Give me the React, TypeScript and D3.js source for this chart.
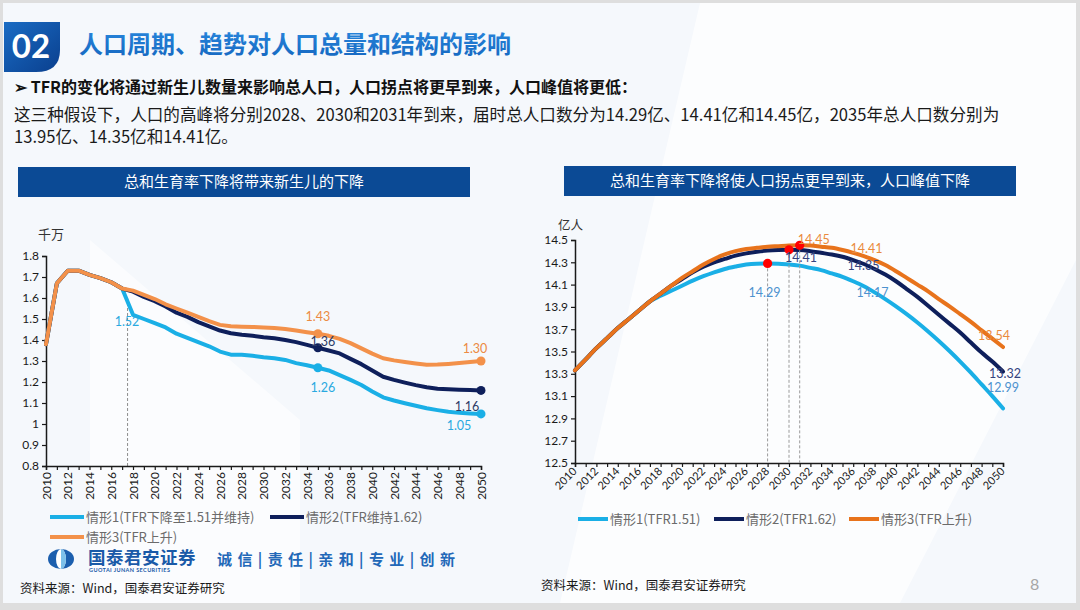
import { useEffect, useRef } from 'react';
import * as d3 from 'd3';

// ---- data ----
const YEARS = d3.range(2010, 2051);

// newborns, 千万 (2010-2017 shared history)
const BIRTHS_HIST = [1.38, 1.67, 1.73, 1.73, 1.71, 1.695, 1.675, 1.645];
// 2018-2050
const BIRTHS_S1 = [1.52, 1.5, 1.48, 1.46, 1.43, 1.41, 1.39, 1.37, 1.345, 1.33, 1.33, 1.325, 1.318, 1.313, 1.305, 1.29, 1.28, 1.268, 1.255, 1.233, 1.21, 1.186, 1.155, 1.127, 1.112, 1.099, 1.087, 1.075, 1.066, 1.058, 1.053, 1.05, 1.048];
const BIRTHS_S2 = [1.63, 1.605, 1.585, 1.56, 1.53, 1.51, 1.485, 1.465, 1.445, 1.432, 1.425, 1.42, 1.413, 1.408, 1.4, 1.39, 1.377, 1.363, 1.35, 1.336, 1.31, 1.285, 1.255, 1.225, 1.21, 1.197, 1.185, 1.175, 1.168, 1.165, 1.163, 1.162, 1.16];
const BIRTHS_S3 = [1.635, 1.615, 1.595, 1.57, 1.55, 1.53, 1.51, 1.49, 1.472, 1.465, 1.463, 1.462, 1.46, 1.457, 1.452, 1.445, 1.437, 1.43, 1.42, 1.405, 1.385, 1.36, 1.335, 1.313, 1.303, 1.295, 1.288, 1.282, 1.283, 1.286, 1.29, 1.295, 1.3];

// total population, 亿人 (2010-2017 shared)
const POP_HIST = [13.33, 13.43, 13.53, 13.62, 13.71, 13.79, 13.87, 13.95];
const POP_S1 = [14.0, 14.045, 14.09, 14.135, 14.175, 14.21, 14.24, 14.262, 14.28, 14.288, 14.29, 14.288, 14.28, 14.27, 14.25, 14.23, 14.2, 14.17, 14.13, 14.085, 14.03, 13.97, 13.905, 13.835, 13.76, 13.68, 13.595, 13.505, 13.41, 13.31, 13.205, 13.1, 12.99];
const POP_S2 = [14.02, 14.09, 14.15, 14.21, 14.26, 14.3, 14.33, 14.36, 14.38, 14.395, 14.405, 14.41, 14.412, 14.41, 14.4, 14.385, 14.37, 14.35, 14.32, 14.285, 14.24, 14.19, 14.13, 14.06, 13.99, 13.91, 13.83, 13.75, 13.67, 13.58, 13.49, 13.41, 13.32];
const POP_S3 = [14.02, 14.09, 14.16, 14.22, 14.28, 14.33, 14.37, 14.4, 14.42, 14.43, 14.44, 14.445, 14.45, 14.452, 14.45, 14.44, 14.43, 14.41, 14.385, 14.355, 14.32, 14.275, 14.22, 14.16, 14.1, 14.04, 13.97, 13.905, 13.835, 13.765, 13.69, 13.615, 13.54];

const LEFT_Y_TICKS = [0.8, 0.9, 1, 1.1, 1.2, 1.3, 1.4, 1.5, 1.6, 1.7, 1.8];
const RIGHT_Y_TICKS = [12.5, 12.7, 12.9, 13.1, 13.3, 13.5, 13.7, 13.9, 14.1, 14.3, 14.5];

const LEFT_NAMES = ['情形1(TFR下降至1.51并维持)', '情形2(TFR维持1.62)', '情形3(TFR上升)'];
const RIGHT_NAMES = ['情形1(TFR1.51)', '情形2(TFR1.62)', '情形3(TFR上升)'];

// labelled points
const LEFT_BRANCH_YEAR = 2017.5;
const LEFT_LABELS = [
  { s: 0, year: 2018, text: '1.52' },
  { s: 2, year: 2035, text: '1.43' },
  { s: 1, year: 2035, text: '1.36' },
  { s: 0, year: 2035, text: '1.26' },
  { s: 2, year: 2050, text: '1.30' },
  { s: 1, year: 2050, text: '1.16' },
  { s: 0, year: 2050, text: '1.05' },
];
const LEFT_DOT_YEARS = [2035, 2050];
const PEAK_YEARS = [2028, 2030, 2031];
const RIGHT_LABELS = [
  { s: 0, year: 2028, text: '14.29' },
  { s: 1, year: 2030, text: '14.41' },
  { s: 2, year: 2031, text: '14.45' },
  { s: 2, year: 2035, text: '14.41' },
  { s: 1, year: 2035, text: '14.35' },
  { s: 0, year: 2035, text: '14.17' },
  { s: 2, year: 2050, text: '13.54' },
  { s: 1, year: 2050, text: '13.32' },
  { s: 0, year: 2050, text: '12.99' },
];

const LEFT_COLORS = ['#1aafe6', '#0e1f5b', '#f3914a'];
const LEFT_LABEL_COLORS = ['#29a9e0', '#2b3a66', '#ec8a42'];
const RIGHT_COLORS = ['#1aafe6', '#0e1f5b', '#e8731c'];
const RIGHT_LABEL_COLORS = ['#4d92cf', '#34447e', '#ea8a3c'];

// label offsets (dx, dy) relative to the point
const LEFT_LABEL_OFF = [[-6, 7], [0, -17], [5, -6], [5, 20], [-6, -12], [-14, 16], [-22, 12]];
const RIGHT_LABEL_OFF = [[-3, 29], [12, 8], [14, -6], [24, -1], [21, 9], [30, 16], [-9, -11], [2, 2], [0, -21]];

const CJK = '"Noto Sans CJK SC", "Noto Sans", sans-serif';
const NUM = 'Lato, "Noto Sans CJK SC", sans-serif';

function drawChart(
  g: d3.Selection<SVGGElement, unknown, null, undefined>,
  opts: {
    hist: number[];
    tails: number[][];
    colors: string[];
    x: d3.ScaleLinear<number, number>;
    y: d3.ScaleLinear<number, number>;
    yTicks: number[];
    yFmt: (d: number) => string;
    rotate: number;
    curve: d3.CurveFactory;
  },
) {
  const { x, y } = opts;
  const series = opts.tails.map((t) => opts.hist.concat(t));
  const x0 = x.range()[0];
  const yb = y.range()[0];

  // axes
  const ya = g.append('g').attr('transform', `translate(${x0},0)`)
    .call(d3.axisLeft(y).tickValues(opts.yTicks).tickSize(4).tickFormat((d) => opts.yFmt(+d)));
  const xa = g.append('g').attr('transform', `translate(0,${yb})`)
    .call(d3.axisBottom(x).tickValues(YEARS).tickSize(4)
      .tickFormat((d) => (+d % 2 === 0 ? String(d) : '')));
  [ya, xa].forEach((a) => {
    a.select('.domain').attr('stroke', '#1a1a1a').attr('stroke-width', 1.5);
    a.selectAll('.tick line').attr('stroke', '#1a1a1a').attr('stroke-width', 1.2);
    a.selectAll('text').attr('fill', '#1a1a1a').attr('font-size', 12).attr('font-family', NUM);
  });
  ya.selectAll('text').attr('x', -7);
  if (opts.rotate === -90) {
    xa.selectAll('.tick text')
      .attr('transform', 'rotate(-90)')
      .attr('x', -6).attr('y', 0).attr('dy', '0.35em')
      .style('text-anchor', 'end').attr('font-size', 12);
  } else {
    xa.selectAll('.tick text')
      .attr('transform', 'rotate(-45)')
      .attr('x', -5).attr('y', 4).attr('dy', '0.35em')
      .style('text-anchor', 'end').attr('font-size', 11);
  }

  const line = d3.line<number>()
    .x((_, i) => x(YEARS[i]))
    .y((d) => y(d))
    .curve(opts.curve);

  series.forEach((s, i) => {
    g.append('path')
      .attr('d', line(s) ?? '')
      .attr('fill', 'none')
      .attr('stroke', opts.colors[i])
      .attr('stroke-width', 4)
      .attr('stroke-linejoin', 'round')
      .attr('stroke-linecap', 'round');
  });
  return series;
}

export default function App() {
  const ref = useRef<SVGGElement>(null);

  useEffect(() => {
    if (!ref.current) return;
    const root = d3.select(ref.current);
    root.selectAll('*').remove();

    // ---- left chart ----
    const xL = d3.scaleLinear().domain([2010, 2050]).range([46, 481]);
    const yL = d3.scaleLinear().domain([0.8, 1.8]).range([466, 256]);
    const gl = root.append('g');
    // dashed guide
    gl.append('line')
      .attr('x1', xL(LEFT_BRANCH_YEAR)).attr('x2', xL(LEFT_BRANCH_YEAR))
      .attr('y1', yL(1.6)).attr('y2', yL(0.8))
      .attr('stroke', '#8c8c8c').attr('stroke-width', 1).attr('stroke-dasharray', '3,2');
    const sl = drawChart(gl, {
      hist: BIRTHS_HIST, tails: [BIRTHS_S1, BIRTHS_S2, BIRTHS_S3],
      colors: LEFT_COLORS,
      x: xL, y: yL, yTicks: LEFT_Y_TICKS,
      yFmt: (d) => String(Math.round(d * 10) / 10), rotate: -90, curve: d3.curveLinear,
    });
    LEFT_DOT_YEARS.forEach((yr) => {
      sl.forEach((s, i) => {
        gl.append('circle').attr('cx', xL(yr)).attr('cy', yL(s[yr - 2010]))
          .attr('r', 4.5).attr('fill', LEFT_COLORS[i]);
      });
    });
    LEFT_LABELS.forEach((l, k) => {
      const s = sl[l.s];
      gl.append('text')
        .attr('x', xL(l.year) + LEFT_LABEL_OFF[k][0])
        .attr('y', yL(s[l.year - 2010]) + LEFT_LABEL_OFF[k][1])
        .attr('text-anchor', 'middle').attr('dy', '0.35em')
        .attr('font-size', 12.5).attr('font-family', NUM)
        .attr('fill', LEFT_LABEL_COLORS[l.s]).text(l.text);
    });

    // ---- right chart ----
    const xR = d3.scaleLinear().domain([2010, 2050]).range([575, 1003]);
    const yR = d3.scaleLinear().domain([12.5, 14.5]).range([463, 240]);
    const gr = root.append('g');
    const sr = drawChart(gr, {
      hist: POP_HIST, tails: [POP_S1, POP_S2, POP_S3],
      colors: RIGHT_COLORS,
      x: xR, y: yR, yTicks: RIGHT_Y_TICKS,
      yFmt: (d) => d.toFixed(1), rotate: -45, curve: d3.curveMonotoneX,
    });
    PEAK_YEARS.forEach((yr, i) => {
      const v = sr[i][yr - 2010];
      gr.append('line')
        .attr('x1', xR(yr)).attr('x2', xR(yr))
        .attr('y1', yR(v)).attr('y2', yR(12.5))
        .attr('stroke', '#9a9a9a').attr('stroke-width', 1).attr('stroke-dasharray', '3,2');
    });
    PEAK_YEARS.forEach((yr, i) => {
      gr.append('circle').attr('cx', xR(yr)).attr('cy', yR(sr[i][yr - 2010]))
        .attr('r', 4.6).attr('fill', '#ff0000');
    });
    RIGHT_LABELS.forEach((l, k) => {
      const s = sr[l.s];
      gr.append('text')
        .attr('x', xR(l.year) + RIGHT_LABEL_OFF[k][0])
        .attr('y', yR(s[l.year - 2010]) + RIGHT_LABEL_OFF[k][1])
        .attr('text-anchor', 'middle').attr('dy', '0.35em')
        .attr('font-size', 12.5).attr('font-family', NUM)
        .attr('fill', RIGHT_LABEL_COLORS[l.s]).text(l.text);
    });
  }, []);

  const legendText = { fontSize: 13, fontFamily: CJK, fill: '#6b6b6b' } as const;

  return (
    <svg width={1080} height={610} style={{ position: 'absolute', left: 0, top: 0 }}
      fontFamily={CJK}>
      <defs>
        <linearGradient id="badge" x1="0" y1="0" x2="1" y2="1">
          <stop offset="0" stopColor="#1a6cc4" />
          <stop offset="1" stopColor="#0a3f8e" />
        </linearGradient>
        <linearGradient id="ttl" x1="0" y1="0" x2="0" y2="1">
          <stop offset="0" stopColor="#2a8ae0" />
          <stop offset="1" stopColor="#1566bf" />
        </linearGradient>
      </defs>
      <rect width={1080} height={610} fill="#dedede" />
      <rect x={3} y={3} width={1073} height={600} fill="#f5f8fc" />
      <polygon points="700,3 1076,3 1076,260 900,603 560,603" fill="#ffffff" opacity={0.7} />
      <polygon points="90,240 300,420 300,603 90,603" fill="#ffffff" opacity={0.6} />

      {/* title */}
      <path d="M4,22 H60 V50 Q60,72 36,72 H4 Z" fill="url(#badge)" />
      <text x={31} y={58} textAnchor="middle" fill="#fff" fontSize={33} fontWeight={700}
        fontFamily={NUM}>02</text>
      <text x={79} y={53} fontSize={24} fontWeight={700} fill="url(#ttl)">人口周期、趋势对人口总量和结构的影响</text>

      <text x={14} y={93} fontSize={16} fontWeight={700} fill="#111">➢ TFR的变化将通过新生儿数量来影响总人口，人口拐点将更早到来，人口峰值将更低：</text>
      <text x={14} y={121} fontSize={16.6} fill="#1a1a1a">这三种假设下，人口的高峰将分别2028、2030和2031年到来，届时总人口数分为14.29亿、14.41亿和14.45亿，2035年总人口数分别为</text>
      <text x={14} y={143} fontSize={16.6} fill="#1a1a1a">13.95亿、14.35亿和14.41亿。</text>

      {/* chart headers */}
      <rect x={18} y={167} width={452} height={30} fill="#0b4a95" />
      <text x={244} y={187} textAnchor="middle" fontSize={15} fill="#fff">总和生育率下降将带来新生儿的下降</text>
      <rect x={564} y={166} width={452} height={30} fill="#0b4a95" />
      <text x={790} y={186} textAnchor="middle" fontSize={15} fill="#fff">总和生育率下降将使人口拐点更早到来，人口峰值下降</text>

      <text x={38} y={239} fontSize={13} fill="#333">千万</text>
      <text x={558} y={230} fontSize={12.5} fill="#333">亿人</text>

      <g ref={ref} />

      {/* left legend */}
      {LEFT_NAMES.map((n, i) => {
        const lx = [50, 270, 50][i];
        const ly = [517, 517, 537][i];
        return (
          <g key={n}>
            <line x1={lx} x2={lx + 34} y1={ly} y2={ly} stroke={LEFT_COLORS[i]} strokeWidth={4} />
            <text x={lx + 36} y={ly + 4.5} {...legendText}>{n}</text>
          </g>
        );
      })}
      {/* right legend */}
      {RIGHT_NAMES.map((n, i) => {
        const lx = [578, 714, 849][i];
        return (
          <g key={n}>
            <line x1={lx} x2={lx + 30} y1={519} y2={519} stroke={RIGHT_COLORS[i]} strokeWidth={4} />
            <text x={lx + 32} y={523.5} {...legendText}>{n}</text>
          </g>
        );
      })}

      {/* logo */}
      <g>
        <ellipse cx={61} cy={559} rx={13} ry={10} fill="#1c5fae" />
        <ellipse cx={61} cy={559} rx={5} ry={10} fill="#ffffff" />
        <path d="M61,549 A5,10 0 0 1 61,569 Z" fill="#7cc0ea" />
        <text x={88} y={564} fontSize={17.5} fontWeight={700} fill="#1a5aa8" letterSpacing={0.5}>国泰君安证券</text>
        <text x={89} y={572} fontSize={5.5} fontWeight={700} fill="#1a5aa8" fontFamily={NUM} letterSpacing={0.4}>GUOTAI JUNAN SECURITIES</text>
        <text x={217} y={565} fontSize={15} fontWeight={700} fill="#2268b8" letterSpacing={1}>诚 信 | 责 任 | 亲 和 | 专 业 | 创 新</text>
      </g>

      <text x={20} y={593} fontSize={12.5} fill="#1a1a1a">资料来源：Wind，国泰君安证券研究</text>
      <text x={541} y={590} fontSize={12.5} fill="#1a1a1a">资料来源：Wind，国泰君安证券研究</text>
      <text x={1030} y={590} fontSize={16} fill="#a6a6a6" fontFamily={NUM}>8</text>
    </svg>
  );
}
